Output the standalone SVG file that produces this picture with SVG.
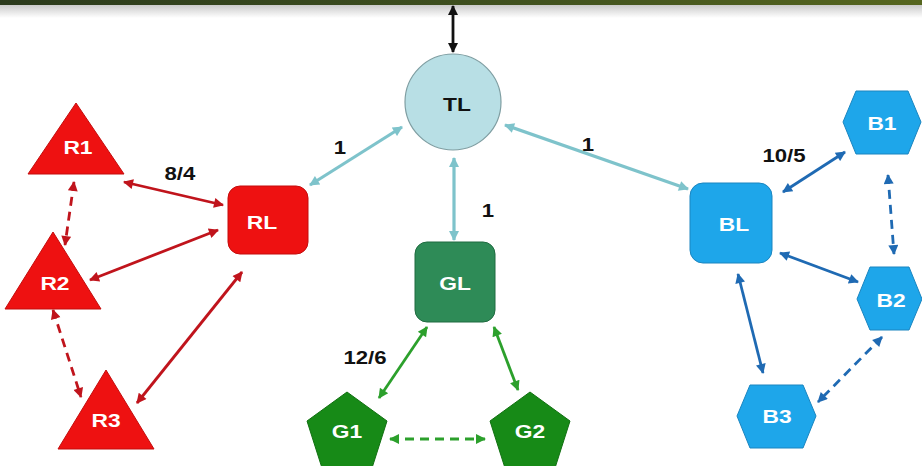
<svg xmlns="http://www.w3.org/2000/svg" width="922" height="466" viewBox="0 0 922 466">
<defs>
<linearGradient id="bar" x1="0" y1="0" x2="1" y2="0"><stop offset="0" stop-color="#2b3a1c"/><stop offset="0.5" stop-color="#3e4f1f"/><stop offset="1" stop-color="#56661f"/></linearGradient>
<linearGradient id="shadow" x1="0" y1="0" x2="0" y2="1"><stop offset="0" stop-color="#9a9a9a"/><stop offset="1" stop-color="#ffffff"/></linearGradient>
<marker id="ak" viewBox="0 0 10 10" refX="9" refY="5" markerWidth="11" markerHeight="10" markerUnits="userSpaceOnUse" orient="auto-start-reverse"><path d="M0,0 L10,5 L0,10 z" fill="#111"/></marker>
<marker id="at" viewBox="0 0 10 10" refX="9" refY="5" markerWidth="12" markerHeight="10" markerUnits="userSpaceOnUse" orient="auto-start-reverse"><path d="M0,0 L10,5 L0,10 z" fill="#7ec3cb"/></marker>
<marker id="ar" viewBox="0 0 10 10" refX="9" refY="5" markerWidth="12" markerHeight="10" markerUnits="userSpaceOnUse" orient="auto-start-reverse"><path d="M0,0 L10,5 L0,10 z" fill="#c0141c"/></marker>
<marker id="ag" viewBox="0 0 10 10" refX="9" refY="5" markerWidth="12" markerHeight="10" markerUnits="userSpaceOnUse" orient="auto-start-reverse"><path d="M0,0 L10,5 L0,10 z" fill="#2ca02c"/></marker>
<marker id="ab" viewBox="0 0 10 10" refX="9" refY="5" markerWidth="12" markerHeight="10" markerUnits="userSpaceOnUse" orient="auto-start-reverse"><path d="M0,0 L10,5 L0,10 z" fill="#1f6ab3"/></marker>
</defs>
<style>
text{font-family:"Liberation Sans",Arial,sans-serif;font-weight:bold;text-anchor:middle;dominant-baseline:central;transform-box:fill-box;transform-origin:center;transform:scaleX(1.2)}
.n{fill:#fff;font-size:19px}
.d{fill:#111;font-size:19px}
.lbl{fill:#111;font-size:18.5px}
.red{fill:#ee1111;stroke:#c40d0d;stroke-width:1}
.grn{fill:#178a17;stroke:#117011;stroke-width:1}
.blu{fill:#1ea6ea;stroke:#1a85c0;stroke-width:1}
.c{fill:none;stroke-width:2.8}
.k{stroke:#111;marker-start:url(#ak);marker-end:url(#ak)}
.t{stroke:#7ec3cb;stroke-width:3.2;marker-start:url(#at);marker-end:url(#at)}
.r{stroke:#c0141c;marker-start:url(#ar);marker-end:url(#ar)}
.g{stroke:#2ca02c;marker-start:url(#ag);marker-end:url(#ag)}
.b{stroke:#1f6ab3;marker-start:url(#ab);marker-end:url(#ab)}
.dash{stroke-dasharray:9 6}
</style>
<rect width="922" height="466" fill="#fff"/>
<rect x="0" y="3" width="922" height="15" fill="url(#shadow)" opacity="0.6"/>
<rect x="0" y="0" width="922" height="5" fill="url(#bar)"/>

<g id="connectors">
<line class="c k" x1="453" y1="6" x2="453" y2="52"/>
<line class="c t" x1="402" y1="127" x2="310" y2="185"/>
<line class="c t" x1="454" y1="158" x2="454" y2="240"/>
<line class="c t" x1="505" y1="125" x2="688" y2="189"/>
<line class="c r" x1="124" y1="182" x2="223" y2="205"/>
<line class="c r" x1="90" y1="280" x2="218" y2="230"/>
<line class="c r" x1="137" y1="403" x2="242" y2="272"/>
<line class="c r dash" x1="74" y1="182" x2="65" y2="245"/>
<line class="c r dash" x1="53" y1="310" x2="81" y2="397"/>
<line class="c g" x1="427" y1="327" x2="379" y2="398"/>
<line class="c g" x1="494" y1="327" x2="518" y2="390"/>
<line class="c g dash" x1="390" y1="439" x2="485" y2="439"/>
<line class="c b" x1="783" y1="192" x2="845" y2="152"/>
<line class="c b" x1="780" y1="253" x2="858" y2="282"/>
<line class="c b" x1="738" y1="274" x2="763" y2="373"/>
<line class="c b dash" x1="888" y1="175" x2="894" y2="254"/>
<line class="c b dash" x1="882" y1="337" x2="818" y2="402"/>
<text class="lbl" x="180" y="174">8/4</text>
<text class="lbl" x="340" y="148">1</text>
<text class="lbl" x="488" y="211">1</text>
<text class="lbl" x="588" y="145">1</text>
<text class="lbl" x="365" y="358">12/6</text>
<text class="lbl" x="784" y="156">10/5</text>
</g>

<g id="TL"><circle cx="453" cy="102" r="48" fill="#b8dfe5" stroke="#7f9ea2" stroke-width="1.2"/><text class="d" x="457" y="104">TL</text></g>
<g id="RL"><rect x="228" y="186" width="80" height="68" rx="12" class="red"/><text class="n" x="262" y="222">RL</text></g>
<g id="R1"><polygon points="76,103 124,174 28,174" class="red"/><text class="n" x="78" y="147">R1</text></g>
<g id="R2"><polygon points="53,232 101,309 5,309" class="red"/><text class="n" x="55" y="283">R2</text></g>
<g id="R3"><polygon points="106,370 154,449 58,449" class="red"/><text class="n" x="106" y="420">R3</text></g>
<g id="GL"><rect x="415" y="242" width="80" height="80" rx="12" fill="#2e8b57" stroke="#1f6b40" stroke-width="1"/><text class="n" x="455" y="283">GL</text></g>
<g id="G1"><polygon points="347,392 387,421 372,468 322,468 307,421" class="grn"/><text class="n" x="347" y="431">G1</text></g>
<g id="G2"><polygon points="530,392 570,421 555,468 505,468 490,421" class="grn"/><text class="n" x="530" y="431">G2</text></g>
<g id="BL"><rect x="690" y="183" width="82" height="80" rx="13" class="blu"/><text class="n" x="734" y="224">BL</text></g>
<g id="B1"><polygon points="843,122 856,91 908,91 921,122 908,154 856,154" class="blu"/><text class="n" x="882" y="123">B1</text></g>
<g id="B2"><polygon points="857,299 870,267 909,267 922,299 909,330 870,330" class="blu"/><text class="n" x="891" y="300">B2</text></g>
<g id="B3"><polygon points="737,416 750,385 803,385 816,416 803,448 750,448" class="blu"/><text class="n" x="777" y="416">B3</text></g>
</svg>
